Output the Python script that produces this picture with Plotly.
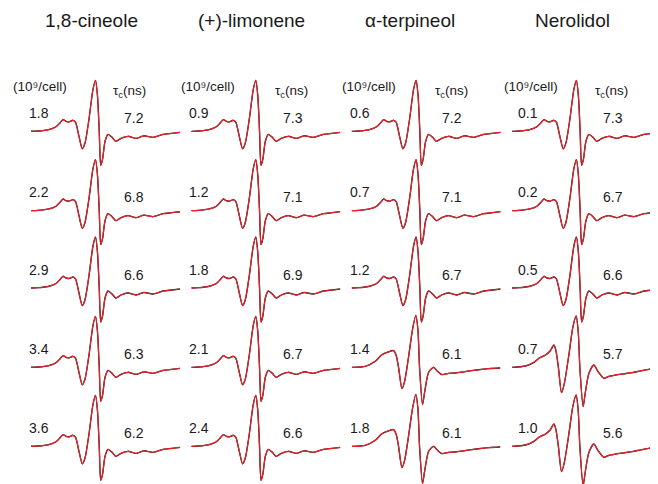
import plotly.graph_objects as go

W, H = 658, 484

compounds = ["1,8-cineole", "(+)-limonene", "α-terpineol", "Nerolidol"]
cells = [
    [1.8, 2.2, 2.9, 3.4, 3.6],
    [0.9, 1.2, 1.8, 2.1, 2.4],
    [0.6, 0.7, 1.2, 1.4, 1.8],
    [0.1, 0.2, 0.5, 0.7, 1.0],
]
tau_c = [
    [7.2, 6.8, 6.6, 6.3, 6.2],
    [7.3, 7.1, 6.9, 6.7, 6.6],
    [7.2, 7.1, 6.7, 6.1, 6.1],
    [7.3, 6.7, 6.6, 5.7, 5.6],
]

# ESR spectra (field in G, first-derivative amplitude, a.u.)
field_a = [0.0, 4.7, 11.4, 16.8, 19.5, 21.5, 23.5, 25.5, 28.2, 29.9, 32.2, 34.4,
           36.2, 38.9, 41.6, 43.3, 44.6, 45.8, 46.8, 48.0, 49.7, 51.7, 54.4,
           57.0, 60.4, 65.1, 70.5, 75.8, 81.9, 88.6, 94.6, 100.0]
amp_a = [0, 0.3, 1.5, 4.5, 8.5, 11.7, 10, 9.5, 11, 9, -5, -17.5,
         -12, 12, 42, 51, 36, 0, -34, -28, -10, -3, -6,
         -10, -7, -5, -7, -4.5, -6, -3, -2, -1]

field_b = [0.2, 9.2, 15.9, 20.3, 24.8, 28.2, 29.9, 31.5, 33.8, 35.6, 38.2, 40.9,
           43.1, 44.5, 45.6, 47.6, 49.0, 51.7, 55.0, 57.7, 60.6, 65.1, 69.6,
           75.2, 80.7, 86.6, 91.9, 99.8]
amp_b = [0, 1, 6, 12.5, 15.5, 16.7, 12, 0, -21.3, -14, 10, 38,
         52, 38, 0, -37.3, -25, -5, 0, -4, -7.3, -6, -5.7,
         -4.5, -3.3, -2.2, -1.3, -0.7]

field_c = [0.2, 9.2, 14.8, 18.1, 22.6, 25.5, 28.2, 29.5, 31.2, 33.3, 35.2, 38.2,
           40.9, 43.1, 44.5, 45.6, 47.8, 49.3, 51.7, 55.0, 57.7, 61.7, 65.1,
           69.6, 75.2, 80.7, 86.6, 91.9, 99.8]
amp_c = [0, 1.3, 5, 9, 12.3, 16, 22.3, 17, 0, -25.3, -16, 12,
         40, 51.3, 36, 0, -39.3, -25, -6, 2.3, -4, -11, -9,
         -7.7, -6.5, -5.3, -3.5, -2, 0]

shapes = {"a": (field_a, amp_a), "b": (field_b, amp_b), "c": (field_c, amp_c)}
shape_of = [
    ["a", "a", "a", "a", "a"],
    ["a", "a", "a", "a", "a"],
    ["a", "a", "a", "b", "b"],
    ["a", "a", "a", "c", "c"],
]

# layout in pixels
col_off = [0, 160.3, 320.6, 480.9]
x0, x1 = 23, 172
baselines = [123.3, 202.7, 280, 359.3, 438.3]
y_top, y_bot = 56, 42

conc_x = [30.5, 191, 351.5, 519.5]
tau_x = [126, 285, 444.5, 604.5]
head_conc_x = [32, 200, 361, 523]
head_tau_x = [121, 283, 443, 603]
title_x = [83, 243.5, 402, 564]


def px(x):
    return x / W


def py(y):
    return 1 - y / H


fig = go.Figure()
layout = {}
annotations = []
font = "Liberation Sans, Arial, sans-serif"

n = 0
for c in range(4):
    for r in range(5):
        n += 1
        sfx = "" if n == 1 else str(n)
        fx, fy = shapes[shape_of[c][r]]
        # experimental (black) under the fitted simulation (red)
        for color, width in [("#1a1a1a", 1.35), ("#e8222a", 1.2)]:
            fig.add_trace(go.Scatter(
                x=fx, y=fy, mode="lines",
                line=dict(color=color, width=width, shape="spline", smoothing=0.7),
                xaxis="x" + sfx, yaxis="y" + sfx, showlegend=False, hoverinfo="skip",
            ))
        b = baselines[r]
        layout["xaxis" + sfx] = dict(
            domain=[px(x0 + col_off[c]), px(x1 + col_off[c])], range=[0, 100],
            visible=False, anchor="y" + sfx,
        )
        layout["yaxis" + sfx] = dict(
            domain=[py(b + y_bot), py(b - y_top)], range=[-y_bot, y_top],
            visible=False, anchor="x" + sfx,
        )
        annotations.append(dict(
            text=f"{cells[c][r]:.1f}", x=px(conc_x[c]), y=py(b - 18.5),
            font=dict(size=14),
        ))
        annotations.append(dict(
            text=f"{tau_c[c][r]:.1f}", x=px(tau_x[c]), y=py(b - 13.5),
            font=dict(size=14),
        ))
    annotations.append(dict(
        text=compounds[c], x=px(title_x[c]), y=py(13), font=dict(size=19),
    ))
    annotations.append(dict(
        text="(10⁹/cell)", x=px(head_conc_x[c]), y=py(79), font=dict(size=13.5),
    ))
    annotations.append(dict(
        text="τ<sub>c</sub>(ns)", x=px(head_tau_x[c]), y=py(83.5), font=dict(size=13.5),
    ))

for a in annotations:
    a.update(xref="paper", yref="paper", xanchor="center", yanchor="middle", showarrow=False)

fig.update_layout(
    width=W, height=H,
    margin=dict(l=0, r=0, t=0, b=0),
    paper_bgcolor="white", plot_bgcolor="rgba(0,0,0,0)",
    font=dict(family=font, color="#1a1a1a"),
    annotations=annotations,
    **layout,
)

fig.write_html("out.html")
